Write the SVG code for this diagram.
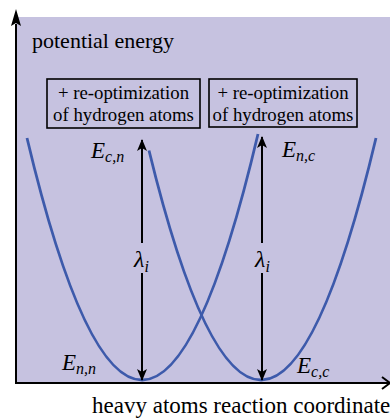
<svg xmlns="http://www.w3.org/2000/svg" width="390" height="419" viewBox="0 0 390 419">
<defs>
<style>
text{font-family:"Liberation Serif","DejaVu Serif","Times New Roman",serif;fill:#000}
.it{font-style:italic}
.curve{fill:none;stroke:#3d5aab;stroke-width:2.8}
.ln{stroke:#000;stroke-width:2;fill:none}
.box{fill:none;stroke:#000;stroke-width:1.6}
</style>
<marker id="ah" viewBox="0 0 12 10" refX="11" refY="5" markerWidth="12" markerHeight="10" markerUnits="userSpaceOnUse" orient="auto">
<path d="M0,0 L12,5 L0,10 L3,5 Z" fill="#000"/>
</marker>
</defs>
<rect x="16" y="17" width="374" height="366" fill="#c6c2e0"/>
<g id="axes">
<line class="ln" x1="16" y1="384" x2="16" y2="24"/>
<path d="M16,9 L21,26 L16,23 L11,26 Z" fill="#000"/>
<line class="ln" x1="15" y1="383" x2="390" y2="383"/>
<polyline class="ln" points="382,377 390,383 382,389"/>
</g>
<g id="axis-labels">
<text font-family="Liberation Serif, serif" x="32" y="48" font-size="22">potential energy</text>
<text font-family="Liberation Serif, serif" x="92" y="413" font-size="23">heavy atoms reaction coordinate</text>
</g>
<g id="box1">
<rect class="box" x="47" y="79" width="153" height="49"/>
<text font-family="Liberation Serif, serif" x="123.5" y="99" font-size="18.8" text-anchor="middle">+ re-optimization</text>
<text font-family="Liberation Serif, serif" x="123.5" y="121" font-size="18.8" text-anchor="middle">of hydrogen atoms</text>
</g>
<g id="box2">
<rect class="box" x="209" y="79" width="148" height="48"/>
<text font-family="Liberation Serif, serif" x="283" y="99" font-size="18.8" text-anchor="middle">+ re-optimization</text>
<text font-family="Liberation Serif, serif" x="283" y="121" font-size="18.8" text-anchor="middle">of hydrogen atoms</text>
</g>
<g id="parabola-n">
<path class="curve" d="M27,138 Q142.5,624 258,134"/>
</g>
<g id="parabola-c">
<path class="curve" d="M149,150.5 Q262.5,615.7 376,138"/>
</g>
<g id="connectors">
<line class="ln" x1="142" y1="243" x2="142" y2="140" marker-end="url(#ah)"/>
<line class="ln" x1="142" y1="273" x2="142" y2="380" marker-end="url(#ah)"/>
<line class="ln" x1="262" y1="243" x2="262" y2="137" marker-end="url(#ah)"/>
<line class="ln" x1="262" y1="273" x2="262" y2="380" marker-end="url(#ah)"/>
</g>
<g id="labels">
<text class="it" font-family="Liberation Serif, serif" x="91" y="158" font-size="23">E<tspan font-size="16" dy="4">c,n</tspan></text>
<text class="it" font-family="Liberation Serif, serif" x="282" y="157" font-size="23">E<tspan font-size="16" dy="4">n,c</tspan></text>
<text class="it" font-family="Liberation Serif, serif" x="62" y="370" font-size="23">E<tspan font-size="16" dy="4">n,n</tspan></text>
<text class="it" font-family="Liberation Serif, serif" x="297" y="373" font-size="23">E<tspan font-size="16" dy="4">c,c</tspan></text>
<text class="it" font-family="Liberation Serif, serif" x="134" y="267" font-size="24">λ<tspan font-size="16" dy="5">i</tspan></text>
<text class="it" font-family="Liberation Serif, serif" x="255" y="267" font-size="24">λ<tspan font-size="16" dy="5">i</tspan></text>
</g>
</svg>
